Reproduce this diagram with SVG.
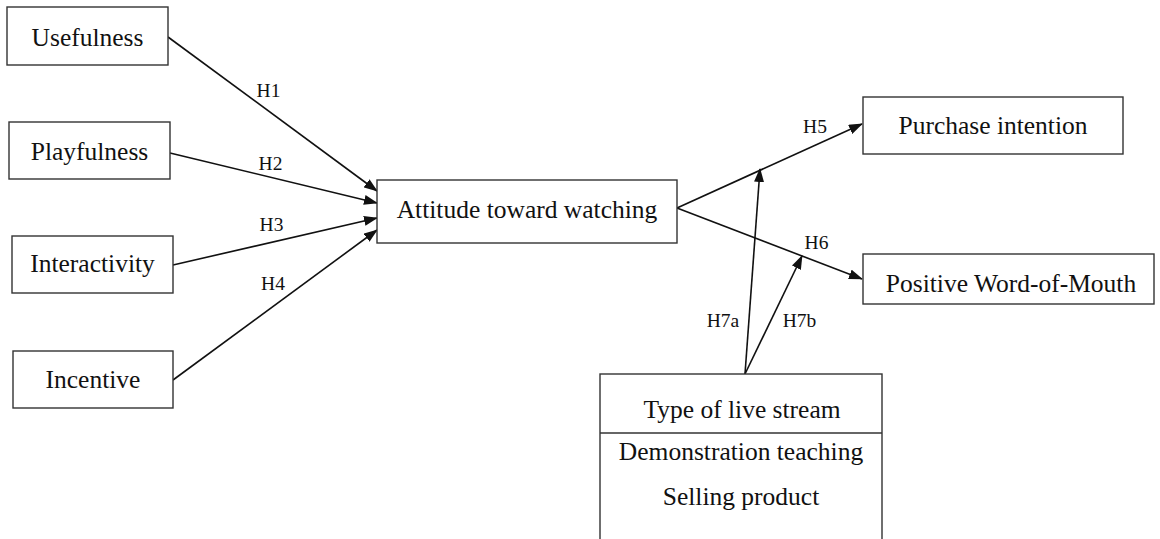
<svg xmlns="http://www.w3.org/2000/svg" width="1160" height="539" viewBox="0 0 1160 539">
<style>
.box{fill:#fff;stroke:#333;stroke-width:1.4}
.t{font-family:"Liberation Serif","Times New Roman",serif;font-size:25.5px;fill:#111;text-anchor:middle}
.h{font-family:"Liberation Serif","Times New Roman",serif;font-size:19.5px;fill:#111;text-anchor:middle}
.c{stroke:#111;stroke-width:1.6;fill:none;marker-end:url(#ah)}
</style>
<defs>
<marker id="ah" markerUnits="userSpaceOnUse" markerWidth="14" markerHeight="10" refX="13" refY="5" orient="auto">
<path d="M0,0 L14,5 L0,10 z" fill="#111"/>
</marker>
</defs>
<rect width="1160" height="539" fill="#fff"/>
<g id="connectors">
<line class="c" x1="168" y1="37" x2="377" y2="191"/>
<line class="c" x1="170" y1="153" x2="377" y2="203"/>
<line class="c" x1="173" y1="265" x2="377" y2="218"/>
<line class="c" x1="173" y1="380" x2="377" y2="230"/>
<line class="c" x1="677" y1="208" x2="862" y2="124"/>
<line class="c" x1="677" y1="208" x2="862" y2="279"/>
<line class="c" x1="745" y1="374" x2="760" y2="169"/>
<line class="c" x1="745" y1="374" x2="802" y2="256"/>
<text class="h" x="268.5" y="97">H1</text>
<text class="h" x="270.5" y="170">H2</text>
<text class="h" x="271.5" y="231">H3</text>
<text class="h" x="273" y="290">H4</text>
<text class="h" x="815" y="133">H5</text>
<text class="h" x="816.5" y="249">H6</text>
<text class="h" x="723" y="327">H7a</text>
<text class="h" x="799.5" y="327">H7b</text>
</g>
<g id="usefulness"><rect class="box" x="7" y="7" width="161" height="58"/><text class="t" x="87.5" y="46">Usefulness</text></g>
<g id="playfulness"><rect class="box" x="9" y="122" width="161" height="57"/><text class="t" x="89.5" y="160">Playfulness</text></g>
<g id="interactivity"><rect class="box" x="12" y="236" width="161" height="57"/><text class="t" x="92.5" y="272">Interactivity</text></g>
<g id="incentive"><rect class="box" x="13" y="351" width="160" height="57"/><text class="t" x="93" y="388">Incentive</text></g>
<g id="attitude"><rect class="box" x="377" y="180" width="300" height="63"/><text class="t" x="527" y="218">Attitude toward watching</text></g>
<g id="purchase"><rect class="box" x="863" y="97" width="260" height="57"/><text class="t" x="993" y="134">Purchase intention</text></g>
<g id="wom"><rect class="box" x="863" y="254" width="291" height="50"/><text class="t" x="1011" y="292">Positive Word-of-Mouth</text></g>
<g id="type"><rect class="box" x="600" y="374" width="282" height="170"/><line x1="600" y1="433" x2="882" y2="433" stroke="#333" stroke-width="1.4"/><text class="t" x="742" y="418">Type of live stream</text><text class="t" x="741" y="460">Demonstration teaching</text><text class="t" x="741" y="505">Selling product</text></g>
</svg>
